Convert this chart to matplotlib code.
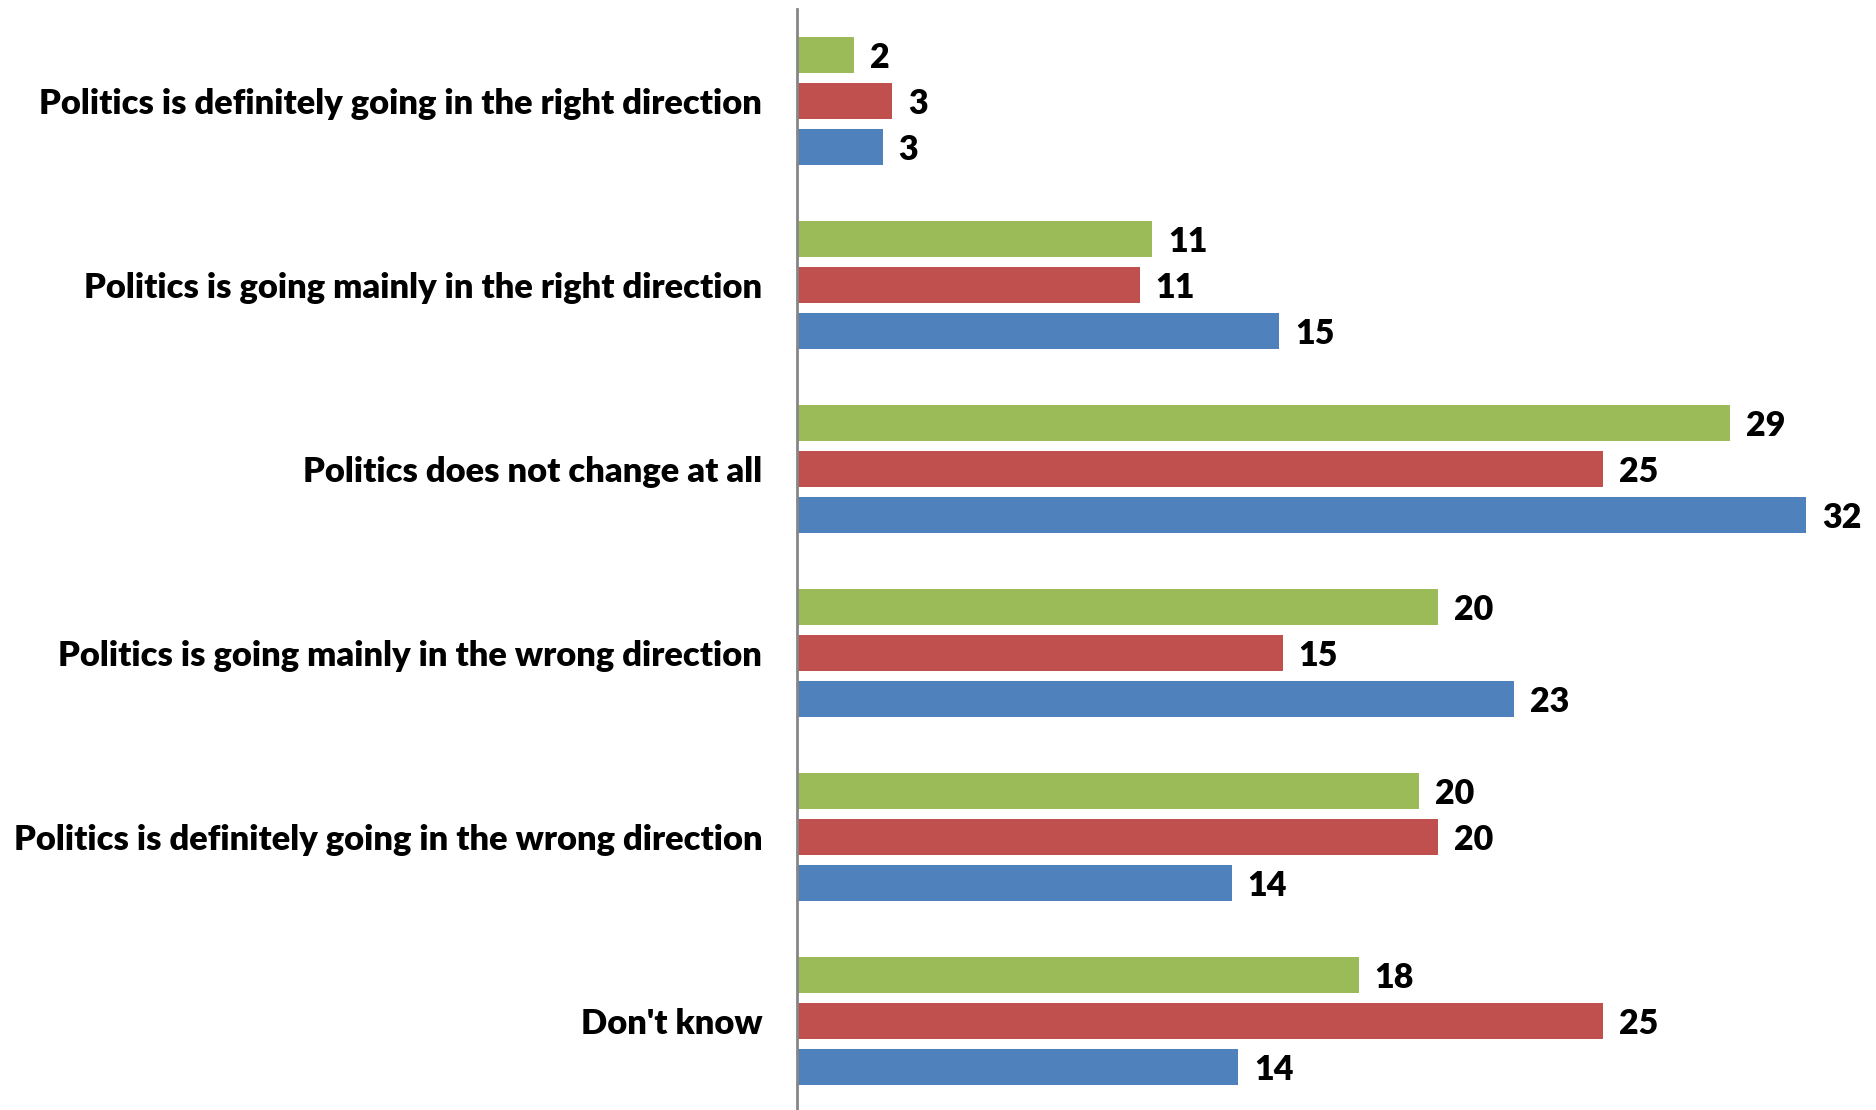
import matplotlib.pyplot as plt
import numpy as np

categories = [
    "Politics is definitely going in the right direction",
    "Politics is going mainly in the right direction",
    "Politics does not change at all",
    "Politics is going mainly in the wrong direction",
    "Politics is definitely going in the wrong direction",
    "Don't know",
]
# three survey waves, top to bottom within each group
green_vals = [1.8, 11.2, 29.4, 20.2, 19.6, 17.7]
red_vals = [3.0, 10.8, 25.4, 15.3, 20.2, 25.4]
blue_vals = [2.7, 15.2, 31.8, 22.6, 13.7, 13.9]
green_labels = ["2", "11", "29", "20", "20", "18"]
red_labels = ["3", "11", "25", "15", "20", "25"]
blue_labels = ["3", "15", "32", "23", "14", "14"]

colors = ["#9BBB59", "#C0504D", "#4F81BD"]
font = "Lato"

fig = plt.figure(figsize=(18.76, 11.10), dpi=100)
ax = fig.add_axes([0.4248, -0.003, 0.5752, 0.9949])

y = np.arange(len(categories))
offsets = [-0.25, 0.0, 0.25]
height = 0.196
series = [(green_vals, green_labels), (red_vals, red_labels), (blue_vals, blue_labels)]
for (vals, labels), off, col in zip(series, offsets, colors):
    ax.barh(y + off, vals, height=height, color=col, edgecolor="none")
    for yi, v, lab in zip(y + off, vals, labels):
        ax.text(v + 0.5, yi, lab, ha="left", va="center_baseline", fontsize=24.5,
                fontweight="heavy", family=font, color="black")

ax.set_xlim(0, 34.0)
ax.set_ylim(len(categories) - 0.5, -0.5)
ax.set_xticks([])
ax.set_yticks(y)
ax.set_yticklabels(categories, fontsize=24.8, fontweight="heavy", family=font)
ax.tick_params(axis="y", length=0, pad=25)
for side in ["top", "right", "bottom"]:
    ax.spines[side].set_visible(False)
ax.spines["left"].set_color("#868686")
ax.spines["left"].set_linewidth(2)

fig.savefig("out.png", dpi=100)
